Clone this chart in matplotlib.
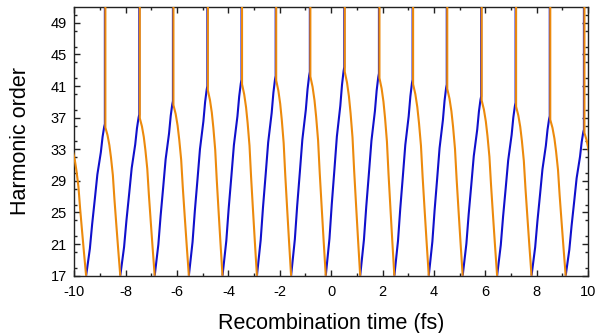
import numpy as np
import matplotlib
matplotlib.use("Agg")
import matplotlib.pyplot as plt
from matplotlib.ticker import MultipleLocator

plt.rcParams['font.family'] = ['Liberation Sans', 'DejaVu Sans']

# cusp (cut-off) recombination times (fs) and harmonic order where branches merge
cusp_times = [-10.16, -8.81, -7.47, -6.16, -4.82, -3.49, -2.16, -0.83,
              0.51, 1.86, 3.17, 4.50, 5.84, 7.18, 8.51, 9.84]
cusp_orders = [34.0, 36.2, 37.4, 39.1, 41.0, 41.8, 42.3, 42.8,
               43.4, 42.6, 41.8, 41.2, 39.7, 38.9, 37.2, 35.5]
# times where branches reach the lowest order (17) between cusps
bottom_times = [-10.89, -9.54, -8.21, -6.87, -5.54, -4.23, -2.89, -1.56,
                -0.21, 1.13, 2.46, 3.80, 5.12, 6.46, 7.80, 9.13, 10.46]

# branch shapes read from one half-cycle (fraction of span, fraction of height above 17)
short_u = [-1.0, -0.80, -0.677, -0.533, -0.40, -0.214, -0.122, -0.037, 0.0]
short_v = [0.0, 0.178, 0.341, 0.508, 0.667, 0.814, 0.915, 0.981, 1.0]
long_u = [0.0, 0.144, 0.269, 0.376, 0.502, 0.608, 0.734, 0.860, 1.0]
long_v = [0.977, 0.926, 0.860, 0.779, 0.663, 0.504, 0.337, 0.174, 0.0]

h_min, h_top = 17, 51
x_ticks = [-10, -8, -6, -4, -2, 0, 2, 4, 6, 8, 10]
y_ticks = [17, 21, 25, 29, 33, 37, 41, 45, 49]

blue = '#1010cc'
orange = '#ec8a0c'

fig = plt.figure(figsize=(6.11, 3.33), dpi=100)
ax = fig.add_axes([0.1216, 0.172, 0.8408, 0.807])

su = np.array(short_u); sv = np.array(short_v)
lu = np.array(long_u); lv = np.array(long_v)
d = 0.02
for i, (tc, hc) in enumerate(zip(cusp_times, cusp_orders)):
    tb = bottom_times[i]
    te = bottom_times[i + 1]
    amp = hc - h_min
    # short trajectory branch (blue)
    xs = list(tc + su * (tc - tb)) + [tc]
    ys = list(h_min + sv * amp) + [h_top + 10]
    ax.plot(xs, ys, color=blue, lw=1.5, solid_capstyle='butt', zorder=2)
    # long trajectory branch (orange)
    xl = [tc + d] + list(tc + d + lu * (te - tc - d))
    yl = [h_top + 10] + list(h_min + lv * amp)
    ax.plot(xl, yl, color=orange, lw=1.5, solid_capstyle='butt', zorder=3)

ax.set_xlim(-10, 10)
ax.set_ylim(h_min, h_top)
ax.set_xticks(x_ticks)
ax.set_xticklabels([str(v) for v in x_ticks])
ax.set_yticks(y_ticks)
ax.xaxis.set_minor_locator(MultipleLocator(1))
ax.yaxis.set_minor_locator(MultipleLocator(2))
ax.tick_params(which='both', direction='in', top=True, right=True,
               labelsize=10.5, width=1.0, color='#222222')
ax.tick_params(which='major', length=4)
ax.tick_params(axis='x', which='major', pad=6.5)
ax.tick_params(axis='y', which='major', pad=5.5)
ax.tick_params(which='minor', length=2.2)
ax.tick_params(axis='y', labelright=False)
for s in ax.spines.values():
    s.set_linewidth(1.0)
    s.set_color('#222222')

ax.set_xlabel('Recombination time (fs)', fontsize=15.5, labelpad=10)
ax.set_ylabel('Harmonic order', fontsize=15.5, labelpad=14)

fig.savefig('out.png', dpi=100)
